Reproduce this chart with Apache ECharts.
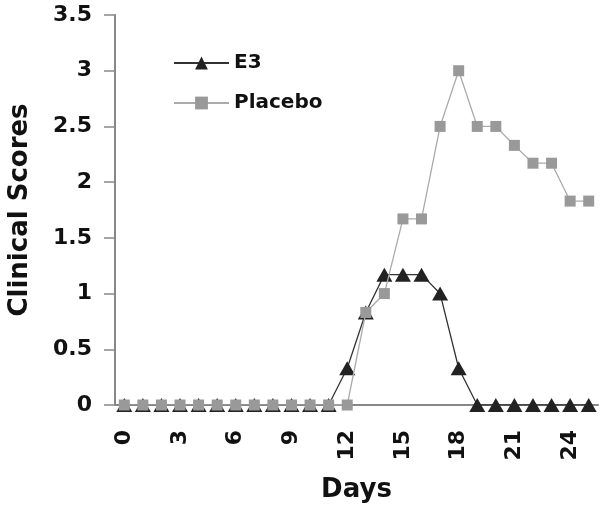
<!DOCTYPE html>
<html><head><meta charset="utf-8">
<script src="https://cdn.jsdelivr.net/npm/echarts@6/dist/echarts.min.js"></script>
<style>html,body{margin:0;padding:0;background:#fff}#c{width:601px;height:510px}</style>
</head><body><div id="c"></div>
<script>
var days = ['0','1','2','3','4','5','6','7','8','9','10','11','12','13','14','15','16','17','18','19','20','21','22','23','24','25'];
var e3 = [0,0,0,0,0,0,0,0,0,0,0,0,0.33,0.83,1.17,1.17,1.17,1.0,0.33,0,0,0,0,0,0,0];
var placebo = [0,0,0,0,0,0,0,0,0,0,0,0,0,0.83,1.0,1.67,1.67,2.5,3.0,2.5,2.5,2.33,2.17,2.17,1.83,1.83];
var yTicks = [0,0.5,1,1.5,2,2.5,3,3.5];

var chart = echarts.init(document.getElementById('c'));
var F = 'DejaVu Sans, sans-serif';
chart.setOption({
  animation:false,
  backgroundColor:'#fff',
  grid:{left:115,top:15,right:3,bottom:105,outerBoundsMode:'none'},
  legend:{
    orient:'vertical', left:168, top:48, itemWidth:55, itemHeight:16, itemGap:20,
    textStyle:{fontFamily:F,fontWeight:'bold',fontSize:20,color:'#111'},
    data:['E3','Placebo']
  },
  xAxis:{
    type:'category', data:days, boundaryGap:true,
    name:'Days', nameLocation:'middle', nameGap:72,
    nameTextStyle:{fontFamily:F,fontWeight:'bold',fontSize:26,color:'#111'},
    axisLine:{lineStyle:{color:'#888',width:2}},
    axisTick:{interval:0,length:8,lineStyle:{color:'#888',width:1.5}},
    axisLabel:{interval:2,rotate:90,margin:25,fontFamily:F,fontWeight:'bold',fontSize:22,color:'#111'},
    splitLine:{show:false}
  },
  yAxis:{
    type:'value', min:0, max:3.5, interval:0.5,
    name:'Clinical Scores', nameLocation:'middle', nameGap:82,
    nameTextStyle:{fontFamily:F,fontWeight:'bold',fontSize:26,color:'#111'},
    axisLine:{show:true,lineStyle:{color:'#888',width:2}},
    axisTick:{show:true,length:11,lineStyle:{color:'#888',width:1.5}},
    axisLabel:{margin:23,fontFamily:F,fontWeight:'bold',fontSize:22,color:'#111',
      formatter:function(v){return yTicks.indexOf(v)>=0?String(v):'';}},
    splitLine:{show:false}
  },
  series:[
    {name:'E3',type:'line',data:e3,symbol:'triangle',symbolSize:[16,14],showAllSymbol:true,
     lineStyle:{color:'#333',width:1.3},itemStyle:{color:'#222'},z:2},
    {name:'Placebo',type:'line',data:placebo,symbol:'rect',symbolSize:11,showAllSymbol:true,
     lineStyle:{color:'#aaa',width:1.3},itemStyle:{color:'#999'},z:3}
  ]
});
</script></body></html>
